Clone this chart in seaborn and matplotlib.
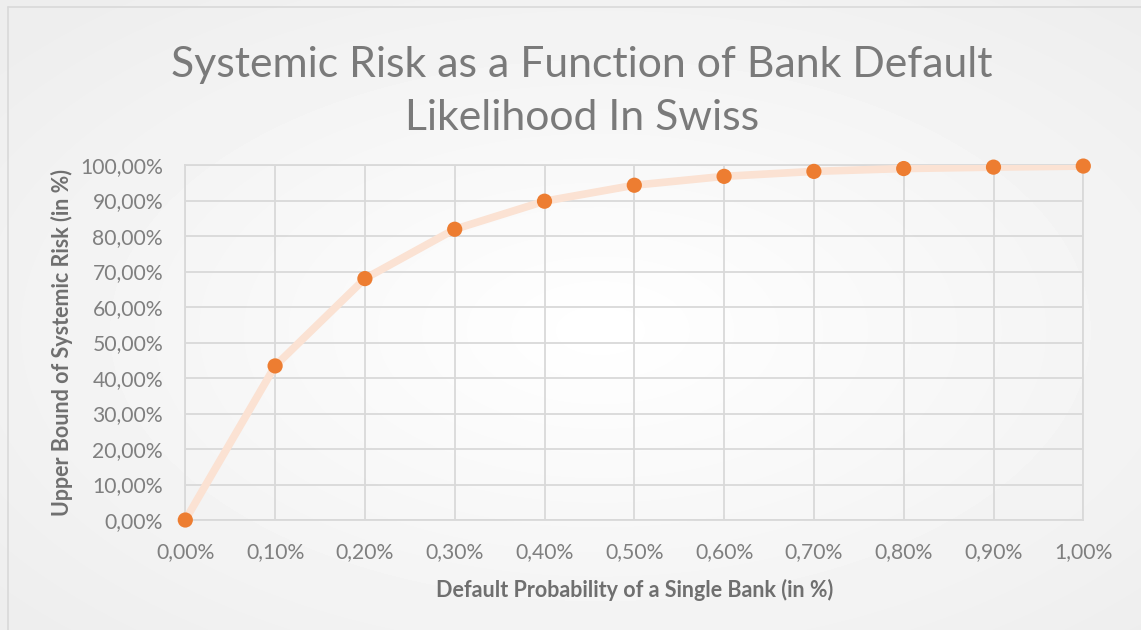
import numpy as np
import pandas as pd
import matplotlib
matplotlib.use("Agg")
import matplotlib.pyplot as plt
import seaborn as sns
from matplotlib.ticker import FuncFormatter, MultipleLocator

# ---- data ----
default_prob = [0.0, 0.1, 0.2, 0.3, 0.4, 0.5, 0.6, 0.7, 0.8, 0.9, 1.0]
systemic_risk = [0.0, 43.4, 68.0, 81.9, 89.8, 94.3, 96.8, 98.2, 99.0, 99.4, 99.7]
title_line1 = "Systemic Risk as a Function of Bank Default"
title_line2 = "Likelihood In Swiss"
x_label = "Default Probability of a Single Bank (in %)"
y_label = "Upper Bound of Systemic Risk (in %)"

df = pd.DataFrame({"p": default_prob, "risk": systemic_risk})

sns.set_theme(style="white")
plt.rcParams["font.family"] = ["Lato", "DejaVu Sans"]

W, H = 1141, 630
fig = plt.figure(figsize=(W / 100, H / 100), dpi=100)

# background gradient
bg = fig.add_axes([0, 0, 1, 1], zorder=-10)
yy, xx = np.mgrid[0:H, 0:W]
d = np.sqrt(((xx - 600) / W) ** 2 + ((yy - 330) / H) ** 2)
val = 1.0 - 0.07 * np.clip(d / 0.7, 0, 1)
bg.imshow(val, cmap="gray", vmin=0, vmax=1, aspect="auto", extent=[0, 1, 0, 1],
          interpolation="bilinear")
bg.set_xlim(0, 1)
bg.set_ylim(0, 1)
bg.axis("off")
# chart frame (left & top)
bg.plot([8 / W, 8 / W], [0, 1 - 7 / H], color="#D9D9D9", lw=1.2)
bg.plot([8 / W, 1], [1 - 7 / H, 1 - 7 / H], color="#D9D9D9", lw=1.2)

ax = fig.add_axes([185.3 / W, 1 - 520 / H, (1083.3 - 185.3) / W, (520 - 165) / H])
ax.patch.set_alpha(0)

sns.lineplot(data=df, x="p", y="risk", ax=ax, color="#FBE2D3", lw=5.5,
             solid_capstyle="round", zorder=3)
sns.scatterplot(data=df, x="p", y="risk", ax=ax, color="#ED7D31", s=120,
                edgecolor="none", zorder=4, clip_on=False)

ax.set_xlim(0, 1.0)
ax.set_ylim(0, 100)
ax.xaxis.set_major_locator(MultipleLocator(0.1))
ax.yaxis.set_major_locator(MultipleLocator(10))
ax.xaxis.set_major_formatter(FuncFormatter(lambda v, _: f"{v:.2f}%".replace(".", ",")))
ax.yaxis.set_major_formatter(FuncFormatter(lambda v, _: f"{v:.2f}%".replace(".", ",")))
ax.grid(True, color="#D9D9D9", lw=1.3)
for s in ax.spines.values():
    s.set_visible(True)
    s.set_color("#D9D9D9")
    s.set_linewidth(1.3)
ax.tick_params(axis="both", length=0, labelsize=15.2, colors="#7F7F7F")
ax.tick_params(axis="x", pad=16)
ax.tick_params(axis="y", pad=16)

ax.set_xlabel(x_label, fontsize=15.5, fontweight="bold", color="#6F6F6F", labelpad=12)
ax.set_ylabel(y_label, fontsize=15.5, fontweight="bold", color="#6F6F6F", labelpad=5)

fig.text(582 / W, 1 - 65 / H, title_line1, ha="center", va="center",
         fontsize=30.8, color="#7A7A7A")
fig.text(582 / W, 1 - 118 / H, title_line2, ha="center", va="center",
         fontsize=30.8, color="#7A7A7A")

fig.savefig("out.png", dpi=100)
